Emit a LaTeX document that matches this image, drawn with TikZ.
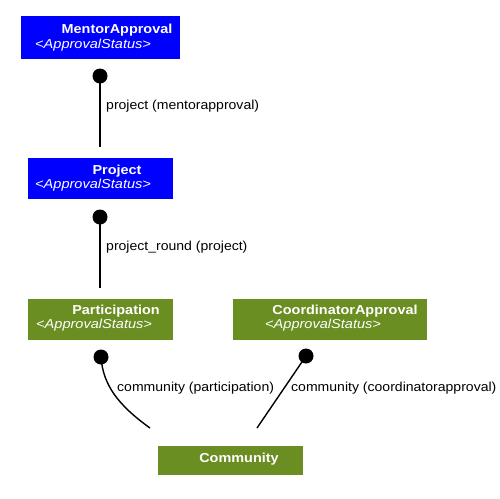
\documentclass[tikz,border=0pt]{standalone}
\usepackage{fontspec}
\setmainfont{Liberation Sans}
\newfontfamily\lblfont[FakeStretch=1.08]{Liberation Sans}
\newfontfamily\ttlfont[FakeStretch=1.11]{Liberation Sans}
\newfontfamily\sterfont[FakeStretch=1.12]{Liberation Sans}
\begin{document}
\begin{tikzpicture}[x=1pt,y=-1pt,
  bluebox/.style={fill={rgb,255:red,0;green,0;blue,255},draw=none,inner sep=0},
  greenbox/.style={fill={rgb,255:red,107;green,142;blue,35},draw=none,inner sep=0},
  ttl/.style={text=white,font=\ttlfont\bfseries\fontsize{13}{15}\selectfont,inner sep=0},
  ster/.style={text=white,font=\sterfont\itshape\fontsize{13}{15}\selectfont,anchor=west,inner sep=0},
  dotnode/.style={circle,fill=black,minimum size=15pt,inner sep=0},
  lbl/.style={font=\lblfont\fontsize{13}{15}\selectfont,anchor=west,inner sep=0},
  conn/.style={line width=1.4pt}]
\useasboundingbox[fill=white] (0,0) rectangle (500,498);
% boxes
\node[bluebox,minimum width=159,minimum height=43] (mentor) at (100.5,37.5) {};
\node[ttl] (mentorT) at (117,30.5) {MentorApproval};
\node[ster] (mentorS) at (35,45.5) {<ApprovalStatus>};
\node[bluebox,minimum width=145,minimum height=41] (project) at (100.5,178.5) {};
\node[ttl] (projectT) at (117,171.5) {Project};
\node[ster] (projectS) at (35,185.5) {<ApprovalStatus>};
\node[greenbox,minimum width=145,minimum height=41] (part) at (100.5,319.5) {};
\node[ttl] (partT) at (116,311.5) {Participation};
\node[ster] (partS) at (36,325.5) {<ApprovalStatus>};
\node[greenbox,minimum width=194,minimum height=41] (coord) at (330,319.5) {};
\node[ttl] (coordT) at (345,311.5) {CoordinatorApproval};
\node[ster] (coordS) at (265,325.5) {<ApprovalStatus>};
\node[greenbox,minimum width=145,minimum height=29] (comm) at (230.5,460.5) {};
\node[ttl] (commT) at (239,459.5) {Community};
% connectors
\node[dotnode] (d1) at (100,76) {};
\coordinate (e1) at (100,147);
\draw[conn] (d1.center) -- (e1);
\node[lbl] (l1) at (106,106.5) {project (mentorapproval)};
\node[dotnode] (d2) at (100,217) {};
\coordinate (e2) at (100,288);
\draw[conn] (d2.center) -- (e2);
\node[lbl] (l2) at (106,247.5) {project\_round (project)};
\node[dotnode] (d3) at (101,357) {};
\coordinate (e3) at (150,428);
\draw[conn] (d3.center) .. controls (103,385) and (118,405) .. (e3);
\node[lbl] (l3) at (117,388.5) {community (participation)};
\node[dotnode] (d4) at (306,356) {};
\coordinate (e4) at (257,428);
\draw[conn] (d4.center) -- (e4);
\node[lbl] (l4) at (291,388.5) {community (coordinatorapproval)};
\end{tikzpicture}
\end{document}
